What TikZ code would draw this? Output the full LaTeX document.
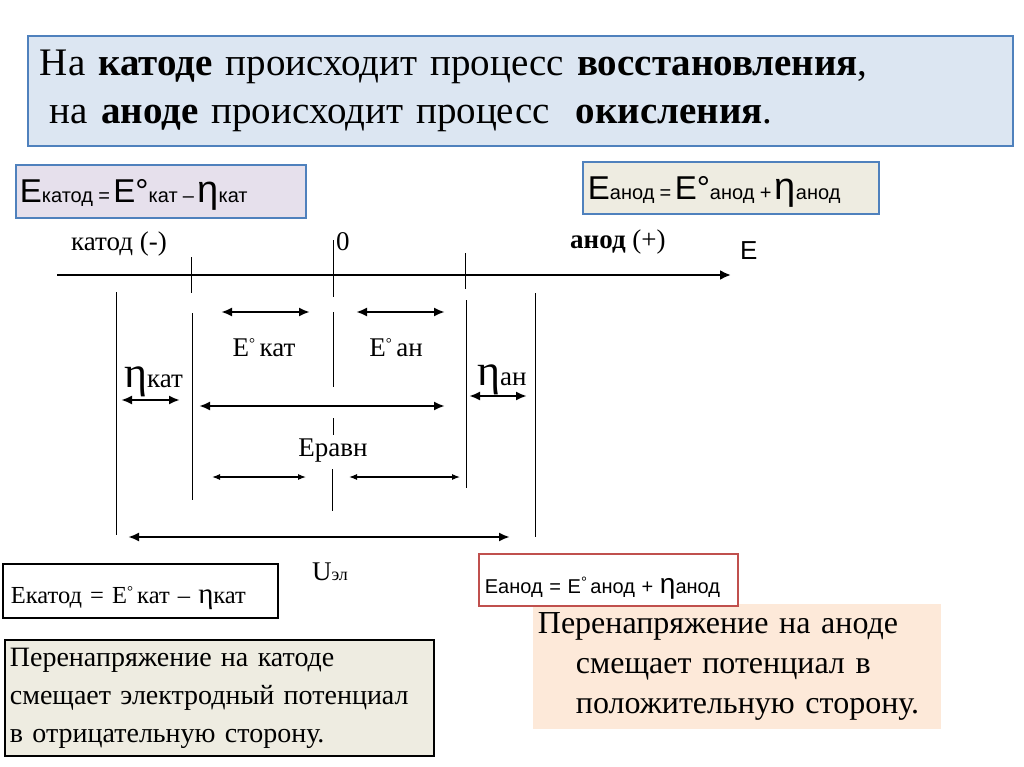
\documentclass[tikz,border=0pt]{standalone}
\usepackage{fontspec}
\setmainfont{Liberation Serif}
\newfontfamily\sansf{Liberation Sans}
\usetikzlibrary{arrows.meta,positioning}

\definecolor{boxblue}{HTML}{4F81BD}
\definecolor{headfill}{HTML}{DCE6F2}
\definecolor{catfill}{HTML}{E6E0EC}
\definecolor{anfill}{HTML}{EEECE1}
\definecolor{notefill}{HTML}{EEECE1}
\definecolor{peach}{HTML}{FDE9D9}
\definecolor{boxred}{HTML}{C0504D}

\newcommand{\fbig}{\fontsize{33}{33}\selectfont}
\newcommand{\fsml}{\fontsize{20}{20}\selectfont}
\newcommand{\feta}{\fontsize{38}{38}\selectfont}
\newcommand{\dg}[1]{\raisebox{#1}{\fontsize{15}{15}\selectfont °}}

\begin{document}
\begin{tikzpicture}[x=1pt, y=-1pt,
    box/.style={anchor=north west, line width=1.8pt, inner ysep=0pt, align=left},
    guide/.style={line width=0.9pt},
    dim/.style={line width=2.8pt, {Latex[length=11pt,width=9pt]}-{Latex[length=11pt,width=9pt]}},
    thindim/.style={line width=1.1pt, {Latex[length=8pt,width=6pt]}-{Latex[length=8pt,width=6pt]}},
    axlbl/.style={anchor=base west, inner sep=0pt, font=\fontsize{27}{29}\selectfont},
    lbl/.style={inner sep=0pt, font=\fontsize{27}{29}\selectfont}]
\useasboundingbox (0,0) rectangle (1024,767);

% Heading
\node[box, draw=boxblue, fill=headfill, minimum width=985pt, minimum height=110pt,
      text width=961pt, inner xsep=12pt, font=\fontsize{39}{48}\selectfont] (head) at (27,35)
  {На \textbf{катоде} происходит процесс \textbf{восстановления},\\
   \hspace*{10pt}на \textbf{аноде} происходит процесс\ \ \textbf{окисления}.};

% Formula boxes at the top
\node[box, draw=boxblue, fill=catfill, minimum width=290pt, text height=38pt, text depth=15pt,
      text width=282pt, inner xsep=4pt] (catf) at (15,164)
  {\sansf\fbig E\fsml катод\hspace{2pt} = \fbig E°\fsml кат\hspace{2pt} – \feta η\fsml кат};
\node[box, draw=boxblue, fill=anfill, minimum width=296pt, text height=38pt, text depth=14pt,
      text width=286pt, inner xsep=5pt] (anf) at (582,161)
  {\sansf\fbig E\fsml анод\hspace{2pt} = \fbig E°\fsml анод\hspace{2pt} + \feta η\fsml анод};

% Axis
\draw[line width=2.8pt, -{Latex[length=11pt,width=10pt]}] (57,275) coordinate (ax0) -- (731,275) coordinate (ax1);
\node[axlbl] (cat) at (71,250) {катод (-)};
\node[axlbl] (zero) at (336,250) {0};
\node[axlbl] (an) at (570,248) {\textbf{анод} (+)};
\node[anchor=base west, inner sep=0pt, font=\sansf\fontsize{26}{26}\selectfont] (axE) at (740,259) {E};

% Ticks and guide lines
\draw[guide] (191,257) -- (191,293);
\draw[guide] (333,240) -- (333,297);
\draw[guide] (465,253) -- (465,289);
\draw[guide] (116,292) -- (116,535);
\draw[guide] (192,313) -- (192,500);
\draw[guide] (333,312) -- (333,387);
\draw[guide] (333,418) -- (333,435);
\draw[guide] (332,469) -- (332,511);
\draw[guide] (466,300) -- (466,488);
\draw[guide] (535,293) -- (535,537);

% Dimension arrows
\draw[dim] (221,312) -- (310,312);
\draw[dim] (356,312) -- (445,312);
\draw[dim] (121,400) -- (180,400);
\draw[dim] (199,406) -- (445,406);
\draw[dim] (469,396) -- (527,396);
\draw[thindim] (212,477) -- (306,477);
\draw[thindim] (349,477) -- (460,477);
\draw[dim] (128,537) -- (510,537);

% Labels
\node[lbl] (ekat) at (264,348) {E\dg{8pt}\,кат};
\node[lbl] (ean) at (396,348) {E\dg{8pt}\,ан};
\node[lbl, anchor=base west] (etakat) at (124,387) {{\fontsize{44}{44}\selectfont η}кат};
\node[lbl, anchor=base west] (etaan) at (477,385) {{\fontsize{44}{44}\selectfont η}ан};
\node[lbl] (eravn) at (333,451) {Eравн};
\node[lbl] (uel) at (330,572) {U{\fontsize{18}{18}\selectfont эл}};

% Bottom boxes
\node[box, draw=black, fill=white, minimum width=271pt, text height=40pt, text depth=14pt,
      text width=259pt, inner xsep=8pt, font=\fontsize{24.5}{28}\selectfont] (catb) at (2,563)
  {Eкатод = E\dg{7pt}\,кат – {\fontsize{29}{29}\selectfont η}кат};
\node[box, draw=black, fill=notefill, minimum width=429pt, minimum height=116pt,
      text width=419pt, inner xsep=5pt, font=\fontsize{28}{38}\selectfont] (notecat) at (4,639)
  {Перенапряжение на катоде\\смещает электродный потенциал\\в отрицательную сторону.};
\node[box, draw=none, fill=peach, minimum width=408pt, minimum height=125pt,
      text width=398pt, inner xsep=5pt, font=\fontsize{32}{40}\selectfont] (notean) at (532,603)
  {Перенапряжение на аноде\\\hspace*{38pt}смещает потенциал в\\\hspace*{38pt}положительную сторону.};
\node[box, draw=boxred, fill=white, minimum width=259pt, text height=40pt, text depth=12pt,
      text width=247pt, inner xsep=6pt, font=\sansf\fontsize{20}{22}\selectfont] (anb) at (478,553)
  {Eанод = E\dg{6pt}\,анод + {\fontsize{28}{28}\selectfont η}анод};
\end{tikzpicture}
\end{document}
